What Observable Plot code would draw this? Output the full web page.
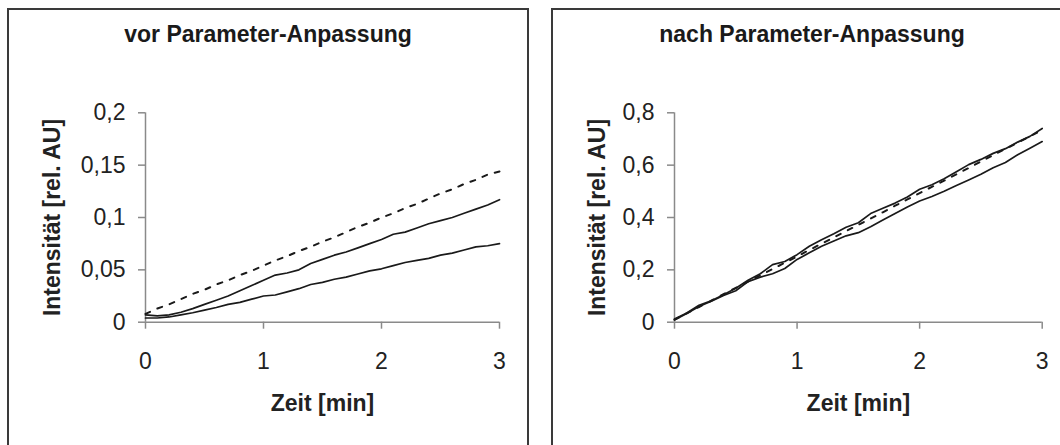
<!DOCTYPE html>
<html><head><meta charset="utf-8">
<script src="https://cdn.jsdelivr.net/npm/d3@7"></script>
<script src="https://cdn.jsdelivr.net/npm/@observablehq/plot@0.6"></script>
<style>
html,body{margin:0;padding:0;background:#fff;width:1060px;height:445px;overflow:hidden;font-family:"Liberation Sans",Arial,sans-serif;}
.box{position:absolute;top:8px;width:522px;height:460px;border:2px solid #3a3a3a;box-sizing:border-box;pointer-events:none;}
.chart{position:absolute;top:8px;width:522px;height:437px;}
.title{position:absolute;top:22.5px;width:522px;text-align:center;font-weight:bold;font-size:23px;line-height:23px;color:#1a1a1a;}
g[aria-label="x-axis label"] text, g[aria-label="y-axis label"] text{font-weight:bold;font-size:23px;}
</style>
</head><body>
<div class="chart" id="c1" style="left:7px"></div>
<div class="chart" id="c2" style="left:551px"></div>
<div class="title" style="left:7px">vor Parameter-Anpassung</div>
<div class="title" style="left:551px">nach Parameter-Anpassung</div>
<div class="box" style="left:7px"></div>
<div class="box" style="left:551px"></div>
<script>
// Zeit [min]
const time = [0,0.1,0.2,0.3,0.4,0.5,0.6,0.7,0.8,0.9,1.0,1.1,1.2,1.3,1.4,1.5,1.6,1.7,1.8,1.9,2.0,2.1,2.2,2.3,2.4,2.5,2.6,2.7,2.8,2.9,3.0];
// left panel: vor Parameter-Anpassung
const leftUpper  = [0.007,0.006,0.007,0.0095,0.013,0.017,0.021,0.025,0.030,0.035,0.040,0.045,0.047,0.050,0.056,0.060,0.064,0.067,0.071,0.075,0.079,0.084,0.086,0.090,0.094,0.097,0.100,0.104,0.108,0.112,0.117];
const leftLower  = [0.004,0.004,0.005,0.007,0.009,0.0115,0.014,0.017,0.019,0.022,0.025,0.026,0.029,0.032,0.036,0.038,0.041,0.043,0.046,0.049,0.051,0.054,0.057,0.059,0.061,0.064,0.066,0.069,0.072,0.073,0.075];
const leftDashed = [0.008,0.013,0.017,0.022,0.027,0.031,0.036,0.040,0.045,0.049,0.054,0.059,0.063,0.068,0.072,0.077,0.081,0.086,0.091,0.095,0.100,0.104,0.109,0.113,0.118,0.123,0.127,0.132,0.136,0.141,0.144];
// right panel: nach Parameter-Anpassung
const rightUpper  = [0.012,0.035,0.065,0.082,0.105,0.130,0.160,0.185,0.220,0.232,0.258,0.290,0.315,0.338,0.363,0.380,0.415,0.435,0.455,0.478,0.508,0.525,0.548,0.575,0.602,0.622,0.645,0.663,0.688,0.710,0.740];
const rightLower  = [0.008,0.033,0.060,0.080,0.102,0.120,0.155,0.172,0.185,0.205,0.240,0.265,0.290,0.310,0.330,0.342,0.365,0.390,0.415,0.440,0.463,0.480,0.500,0.522,0.543,0.565,0.590,0.610,0.640,0.665,0.690];
const rightDashed = [0.010,0.034,0.058,0.082,0.107,0.131,0.155,0.179,0.203,0.227,0.251,0.276,0.300,0.324,0.348,0.372,0.396,0.420,0.445,0.469,0.493,0.517,0.541,0.565,0.589,0.614,0.638,0.662,0.686,0.710,0.734];
// ticks
const xTicks = [0,1,2,3];
const leftYTicks = [0,0.05,0.1,0.15,0.2];
const rightYTicks = [0,0.2,0.4,0.6,0.8];
const xLabel = "Zeit [min]";
const yLabel = "Intensität [rel. AU]";

const fmt = d => String(+(+d).toFixed(3)).replace(".", ",");
const rows = s => time.map((t, i) => ({t, v: s[i]}));

function panel({yDomain, yTicks, upper, lower, dashed, marginLeft, marginRight, yLabelOffset}) {
  return Plot.plot({
    width: 522, height: 437,
    marginTop: 104.3, marginBottom: 123.3, marginLeft, marginRight,
    x: {domain: [0, 3]},
    y: {domain: yDomain},
    style: {background: "transparent", fontFamily: "'Liberation Sans', Arial, sans-serif", fontSize: "23px", color: "#222", overflow: "visible"},
    marks: [
      Plot.ruleY([0], {stroke: "#8a8a8a", strokeWidth: 1.5}),
      Plot.ruleX([0], {stroke: "#8a8a8a", strokeWidth: 1.5}),
      Plot.axisX({ticks: xTicks, tickSize: 7, tickPadding: 23, tickFormat: fmt, stroke: "#8a8a8a", strokeWidth: 1.5, fontSize: 23,
        label: xLabel, labelAnchor: "center", labelArrow: "none", labelOffset: 89}),
      Plot.axisY({ticks: yTicks, tickSize: 7, tickPadding: 13, tickFormat: fmt, stroke: "#8a8a8a", strokeWidth: 1.5, fontSize: 23,
        label: yLabel, labelAnchor: "center", labelArrow: "none", labelOffset: yLabelOffset}),
      Plot.lineY(rows(dashed), {x: "t", y: "v", stroke: "#1a1a1a", strokeWidth: 2, strokeDasharray: "5,8"}),
      Plot.lineY(rows(lower), {x: "t", y: "v", stroke: "#1a1a1a", strokeWidth: 1.7}),
      Plot.lineY(rows(upper), {x: "t", y: "v", stroke: "#1a1a1a", strokeWidth: 1.7})
    ]
  });
}

document.getElementById("c1").append(panel({yDomain: [0, 0.2], yTicks: leftYTicks, upper: leftUpper, lower: leftLower, dashed: leftDashed, marginLeft: 138, marginRight: 30, yLabelOffset: 102}));
document.getElementById("c2").append(panel({yDomain: [0, 0.8], yTicks: rightYTicks, upper: rightUpper, lower: rightLower, dashed: rightDashed, marginLeft: 123, marginRight: 31.3, yLabelOffset: 86}));
</script>
</body></html>
